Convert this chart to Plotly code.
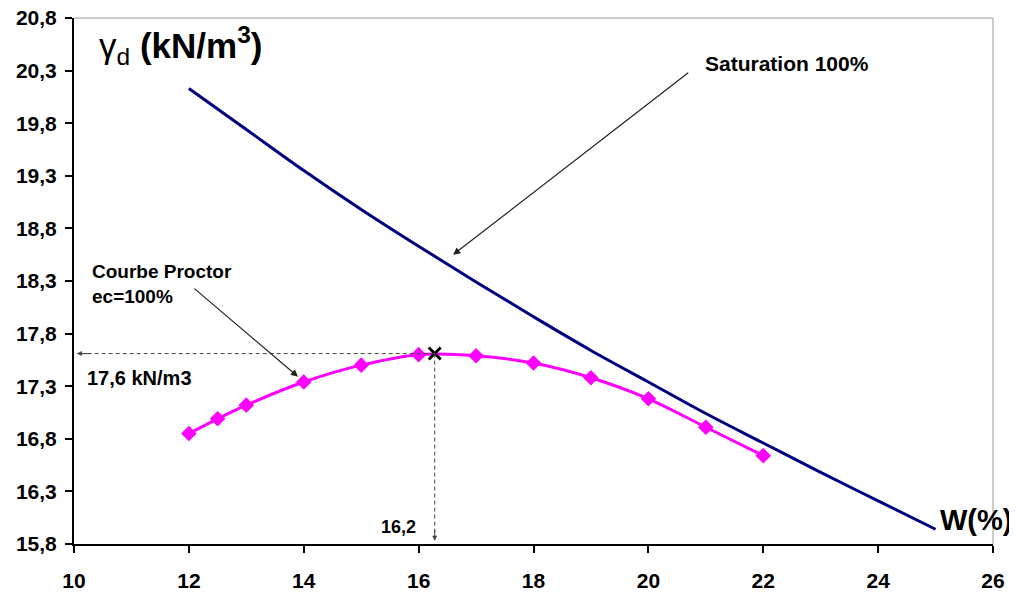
import plotly.graph_objects as go

# Saturation 100% curve
sat_w = [12, 13, 14, 15, 16, 17, 18, 19, 20, 21, 22, 23, 24, 25]
sat_gd = [20.13, 19.74, 19.35, 18.98, 18.63, 18.29, 17.96, 17.64, 17.34, 17.04, 16.76, 16.48, 16.21, 15.94]

# Proctor curve
pr_w = [12, 12.5, 13, 14, 15, 16, 17, 18, 19, 20, 21, 22]
pr_gd = [16.85, 16.99, 17.12, 17.34, 17.50, 17.60, 17.59, 17.52, 17.38, 17.18, 16.91, 16.64]

# Optimum
opt_w = [16.28]
opt_gd = [17.61]

x_ticks = [10, 12, 14, 16, 18, 20, 22, 24, 26]
x_labels = ["10", "12", "14", "16", "18", "20", "22", "24", "26"]
y_ticks = [15.8, 16.3, 16.8, 17.3, 17.8, 18.3, 18.8, 19.3, 19.8, 20.3, 20.8]
y_labels = ["15,8", "16,3", "16,8", "17,3", "17,8", "18,3", "18,8", "19,3", "19,8", "20,3", "20,8"]

FONT = "Arial, Liberation Sans, sans-serif"

fig = go.Figure()
fig.add_trace(go.Scatter(x=sat_w, y=sat_gd, mode="lines", line=dict(color="#000080", width=3, shape="spline"),
                         hoverinfo="skip", showlegend=False))
fig.add_trace(go.Scatter(x=pr_w, y=pr_gd, mode="lines+markers",
                         line=dict(color="#FF00FF", width=3, shape="spline"),
                         marker=dict(symbol="diamond", size=12, color="#FF00FF"),
                         showlegend=False))
fig.add_trace(go.Scatter(x=opt_w, y=opt_gd, mode="markers",
                         marker=dict(symbol="x-thin", size=12, line=dict(color="black", width=2.8)),
                         showlegend=False))

# dashed guide lines
dash_col = "#444444"
fig.add_shape(type="line", x0=opt_w[0], y0=opt_gd[0], x1=10.05, y1=opt_gd[0],
              line=dict(color=dash_col, width=1, dash="4px,3px"))
fig.add_shape(type="line", x0=opt_w[0], y0=opt_gd[0], x1=opt_w[0], y1=15.83,
              line=dict(color=dash_col, width=1, dash="4px,3px"))
# arrowheads for guides
fig.add_annotation(x=10.05, y=opt_gd[0], ax=10.3, ay=opt_gd[0], axref="x", ayref="y",
                   xref="x", yref="y", text="", showarrow=True, arrowhead=2, arrowsize=1,
                   arrowwidth=1, arrowcolor=dash_col)
fig.add_annotation(x=opt_w[0], y=15.83, ax=opt_w[0], ay=15.95, axref="x", ayref="y",
                   xref="x", yref="y", text="", showarrow=True, arrowhead=2, arrowsize=1,
                   arrowwidth=1, arrowcolor=dash_col)

# pointer arrows
fig.add_annotation(x=16.6, y=18.55, ax=20.72, ay=20.29, axref="x", ayref="y",
                   xref="x", yref="y", text="", showarrow=True, arrowhead=2, arrowsize=1.2,
                   arrowwidth=1.2, arrowcolor="#222222")
fig.add_annotation(x=13.9, y=17.39, ax=12.07, ay=18.24, axref="x", ayref="y",
                   xref="x", yref="y", text="", showarrow=True, arrowhead=2, arrowsize=1.2,
                   arrowwidth=1.2, arrowcolor="#222222")


# convert page pixel positions to paper coords: plot area x 74..993, y 18..544
def px(xp):
    return (xp - 74) / (993 - 74)


def py(yp):
    return (544 - yp) / (544 - 18)


def txt(x, y, s, size, anchor="left", yanchor="middle", align="left"):
    fig.add_annotation(x=px(x), y=py(y), xref="paper", yref="paper", text=s, showarrow=False,
                       xanchor=anchor, yanchor=yanchor, align=align,
                       font=dict(family=FONT, size=size, color="black", weight="bold"))


fig.add_annotation(x=px(97), y=py(45), xref="paper", yref="paper",
                   text="γ<sub>d</sub> <b>(kN/m<sup>3</sup>)</b>", showarrow=False,
                   xanchor="left", yanchor="middle",
                   font=dict(family=FONT, size=35, color="black"))
txt(938, 520, "W(%)", 29)
txt(703, 63, "Saturation 100%", 21)
txt(90, 284, "Courbe Proctor<br>ec=100%", 19)
txt(85, 378, "17,6 kN/m3", 20)
txt(379, 527, "16,2", 18)

axis_common = dict(showgrid=False, zeroline=False, ticks="outside", ticklen=7, tickwidth=2,
                   tickcolor="black", showline=True, linecolor="black", linewidth=2,
                   automargin=False, ticklabeloverflow="allow",
                   tickfont=dict(family=FONT, size=21, color="black", weight="bold"))
fig.update_xaxes(range=[10, 26], tickvals=x_ticks, ticktext=x_labels, ticklabelstandoff=10, **axis_common)
fig.update_yaxes(range=[15.8, 20.8], tickvals=y_ticks, ticktext=y_labels, ticklabelstandoff=4, **axis_common)

# gray top/right frame
fig.add_shape(type="line", xref="paper", yref="paper", x0=0, y0=1, x1=1, y1=1,
              line=dict(color="#999999", width=1))
fig.add_shape(type="line", xref="paper", yref="paper", x0=1, y0=0, x1=1, y1=1,
              line=dict(color="#999999", width=1))

# page body has an 8px margin, so shift the plot area up/left by 8px
fig.update_layout(width=1017, height=592, margin=dict(l=66, r=32, t=10, b=56),
                  plot_bgcolor="white", paper_bgcolor="white", showlegend=False)

fig.write_html("out.html")
